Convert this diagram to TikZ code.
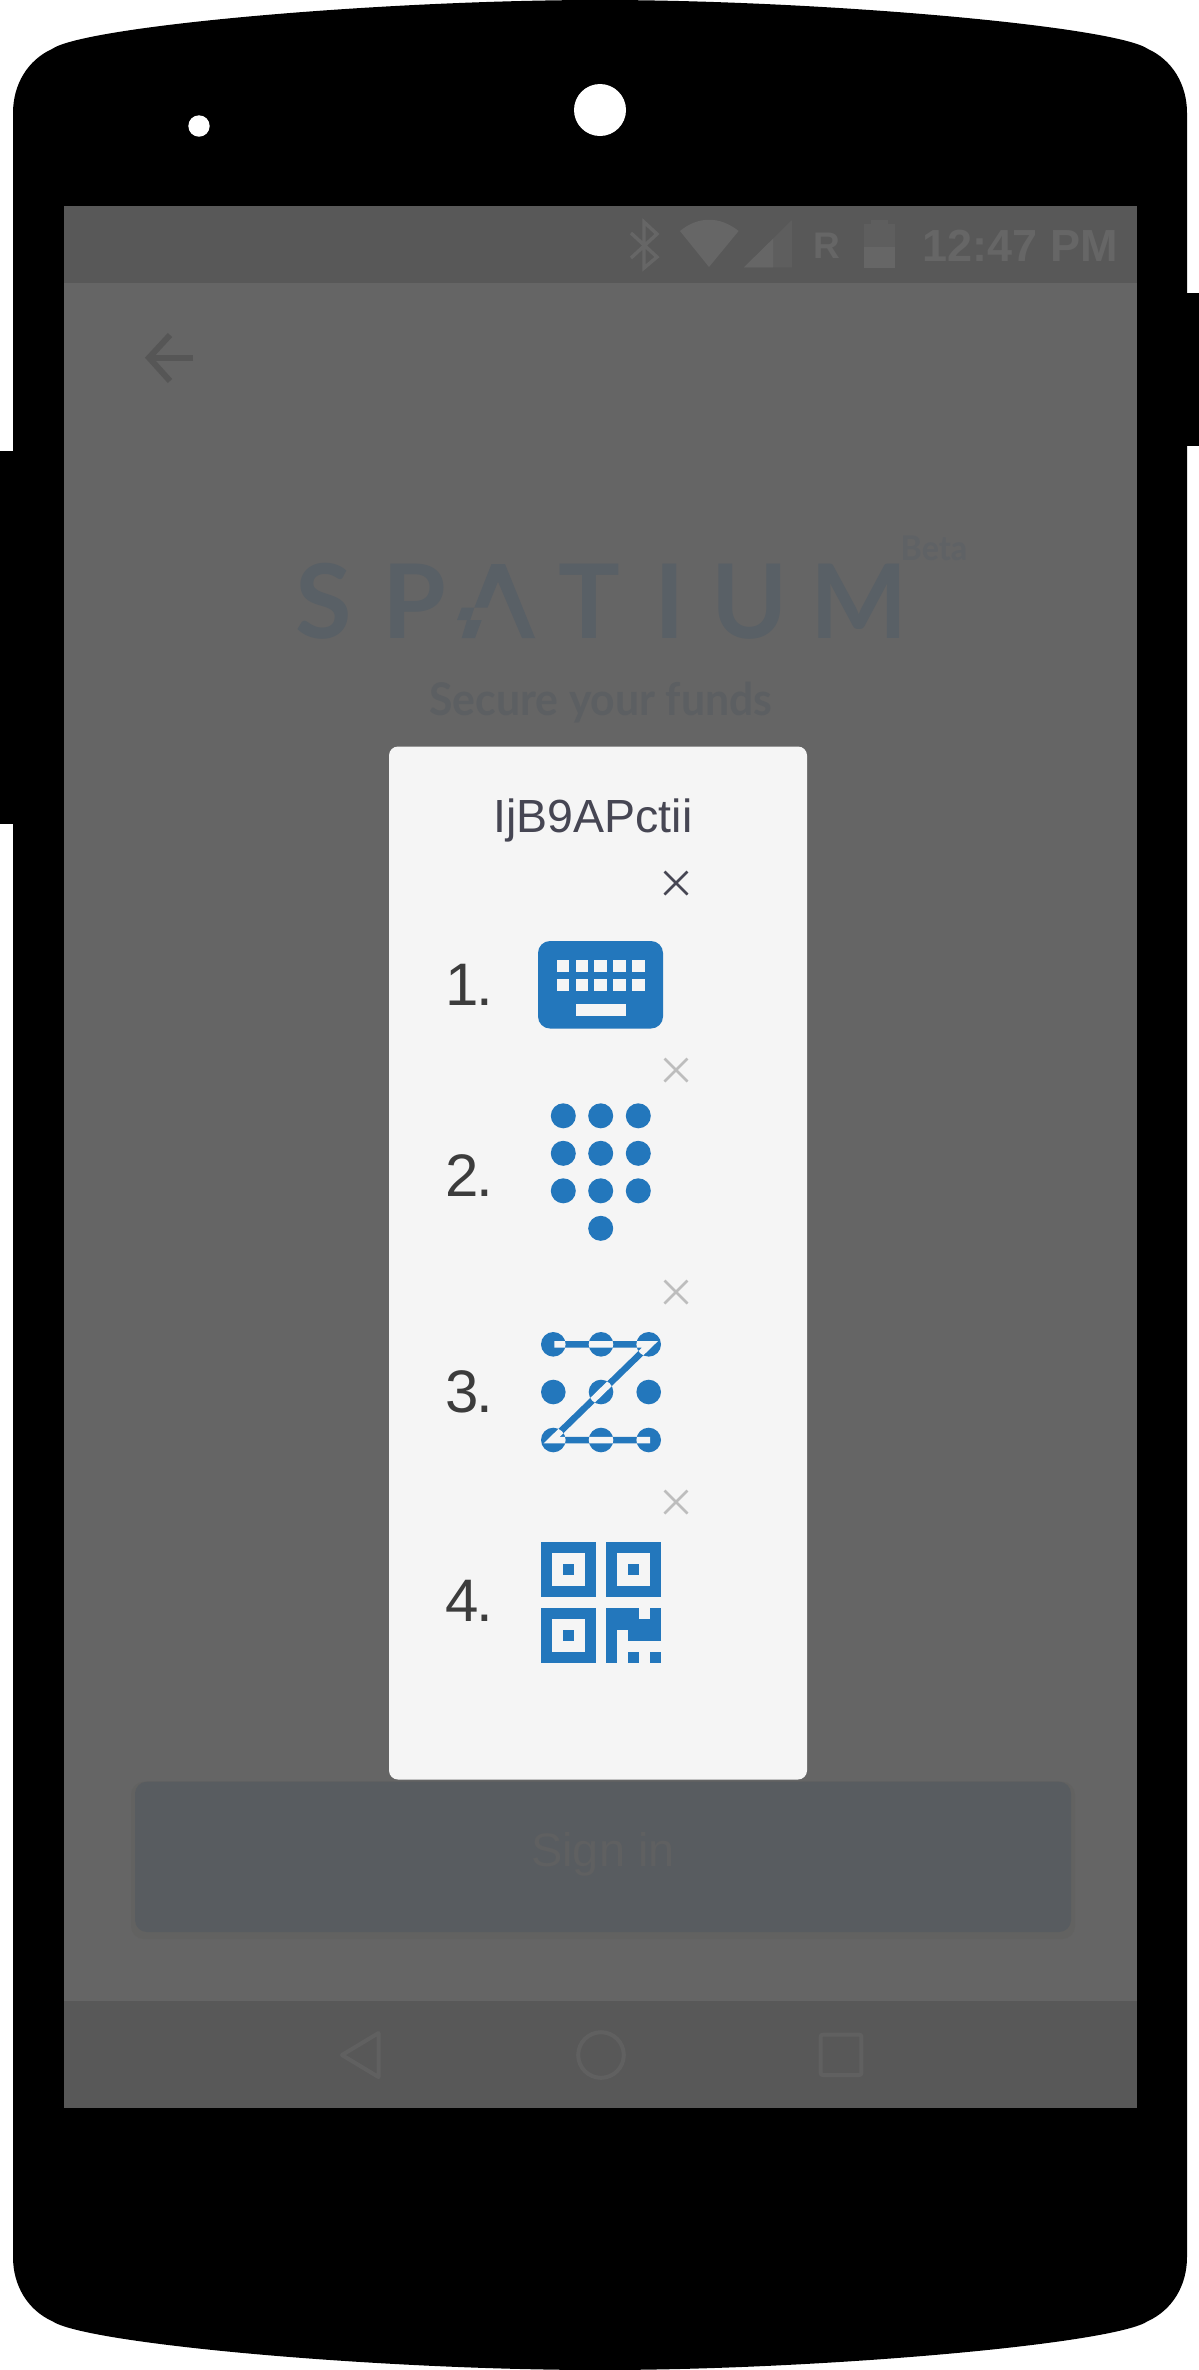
\documentclass[tikz,border=0pt]{standalone}
\usepackage{fontspec}
\setmainfont{Liberation Sans}
\newfontfamily\logofont{Lato}
\newfontfamily\latofont[FakeStretch=0.95]{Lato}
\newcommand{\fsz}[1]{\fontsize{#1}{#1}\selectfont}
\definecolor{screenbg}{HTML}{656565}
\definecolor{barbg}{HTML}{585858}
\definecolor{dialogbg}{HTML}{F5F5F5}
\definecolor{iconblue}{HTML}{2377BC}
\definecolor{numgray}{HTML}{3C3C3C}
\definecolor{titlecol}{HTML}{464653}
\definecolor{xgray}{HTML}{BDBDBD}
\definecolor{logocol}{HTML}{596066}
\definecolor{subcol}{HTML}{5C5F62}
\definecolor{betacol}{HTML}{5F6265}
\definecolor{btncol}{HTML}{585C60}
\definecolor{btnshadow}{HTML}{626261}
\definecolor{btntext}{HTML}{5F6061}
\definecolor{statusfg}{HTML}{666666}
\definecolor{statusdim}{HTML}{5E5E5E}
\definecolor{navfg}{HTML}{606060}
\definecolor{arrowcol}{HTML}{565656}
\tikzset{
  label text/.style={inner sep=0pt,outer sep=0pt,anchor=base},
  closemark/.style={line width=2.6pt,draw=#1},
  navicon/.style={draw=navfg,line width=4pt,line join=round},
}
\begin{document}
\begin{tikzpicture}[x=1pt,y=-1pt]
\useasboundingbox (0,0) rectangle (1199,2370);
\fill[white] (0,0) rectangle (1199,2370);
% side buttons
\fill[black] (1180,293) rectangle (1199,446);
\fill[black] (0,451) rectangle (20,824);
% body
\fill[black] (13,113)
  .. controls (13,84) and (28,60) .. (52,49)
  .. controls (85,26) and (380,0) .. (600,0)
  .. controls (820,0) and (1115,26) .. (1148,49)
  .. controls (1172,60) and (1187,84) .. (1187,113)
  -- (1187,2257)
  .. controls (1187,2286) and (1172,2310) .. (1148,2321)
  .. controls (1115,2344) and (820,2370) .. (600,2370)
  .. controls (380,2370) and (85,2344) .. (52,2321)
  .. controls (28,2310) and (13,2286) .. (13,2257) -- cycle;
% cameras
\fill[white] (600,110) circle (26);
\fill[white] (199,126) circle (10.7);
% screen
\fill[screenbg] (63.5,205.5) rectangle (1137,2107.5);
\fill[barbg] (63.5,205.5) rectangle (1137,283);
\fill[barbg] (63.5,2001) rectangle (1137,2107.5);
% status icons
\draw[statusfg,line width=3.4pt,line join=miter] (631,233) -- (657,257) -- (644,268) -- (644,222) -- (657,234) -- (631,258);
\fill[statusfg] (709,267) -- (680,231) .. controls (698,216) and (720,216) .. (738.6,231) -- cycle;
\fill[statusdim] (744,267.3) -- (792,220) -- (792,267.3) -- cycle;
\fill[statusfg] (744,267.3) -- (773,238.8) -- (773,267.3) -- cycle;
\node[label text,font=\bfseries\fsz{37},text=statusfg] (roam) at (827,258) {R};
\fill[statusdim] (871,220) rectangle (887.5,225);
\fill[statusdim] (864,224) rectangle (895,247);
\fill[statusfg] (864,246.7) rectangle (895,267.7);
\node[label text,anchor=base east,font=\bfseries\fsz{45},text=statusfg] (clock) at (1118,261.7) {12:47 PM};
% back arrow
\draw[arrowcol,line width=6pt] (193,357.7) -- (148,357.7);
\draw[arrowcol,line width=6pt,line join=miter] (170,335) -- (149,357.7) -- (170,381);
% logo
\node[label text,anchor=base west,font=\logofont\bfseries\fsz{103},text=logocol] (logo) at (278,638) {\makebox[91pt][c]{S}\makebox[90pt][c]{P}\makebox[79pt][c]{A}\makebox[102pt][c]{T}\makebox[59pt][c]{I}\makebox[102pt][c]{U}\makebox[116pt][c]{M}};
\fill[screenbg] (452,550) rectangle (546,650);
\fill[logocol] (491.5,564) -- (505,564) -- (535,638) -- (522,638) -- (498,581.7) -- (487.5,607.7) -- (474.3,607.7) -- cycle;
\fill[logocol] (457,620) -- (461.7,607.7) -- (474.3,607.7) -- (470.3,620) -- cycle;
\fill[logocol] (467,620) -- (481.7,620) -- (475,638) -- (461.7,638) -- cycle;
\node[label text,font=\latofont\bfseries\fsz{34},text=betacol] (beta) at (934,560.7) {Beta};
\node[label text,font=\latofont\bfseries\fsz{45},text=subcol] (tagline) at (601,715.7) {Secure your funds};
% sign-in button
\fill[btnshadow,rounded corners=13pt] (131,1781.7) rectangle (1075,1939);
\fill[btncol,rounded corners=12pt] (135,1781.7) rectangle (1071,1932);
\node[label text,font=\fsz{47},text=btntext] (signin) at (603,1866) {Sign in};
% nav icons
\draw[navicon] (342,2055) -- (378.5,2033) -- (378.5,2077) -- cycle;
\draw[navicon] (601,2055) circle (22.8);
\draw[navicon,rounded corners=2pt] (820.7,2034.7) rectangle (861.4,2075);
% dialog
\fill[dialogbg,rounded corners=9pt] (389,746.5) rectangle (807,1779.5);
\node[label text,font=\fsz{46.5},text=titlecol] (title) at (593,832.5) {IjB9APctii};
% close marks
\foreach \yy/\cc in {883/titlecol,1070/xgray,1292/xgray,1502/xgray}
  \draw[closemark=\cc] (664.5,\yy-11.5) -- (687.5,\yy+11.5) (664.5,\yy+11.5) -- (687.5,\yy-11.5);
% numbers
\node[label text,font=\fsz{60},text=numgray] (n1) at (469.5,1005) {1\kern-3pt.};
\node[label text,font=\fsz{60},text=numgray] (n2) at (469.5,1196) {2\kern-3pt.};
\node[label text,font=\fsz{60},text=numgray] (n3) at (469.5,1412) {3\kern-3pt.};
\node[label text,font=\fsz{60},text=numgray] (n4) at (469.5,1621) {4\kern-3pt.};
% keyboard
\fill[iconblue,rounded corners=12pt] (538,941) rectangle (663,1028.5);
\foreach \xx in {556.7,575.5,594.3,613.2,632}
  \foreach \yy in {960,979}
    \fill[dialogbg] (\xx,\yy) rectangle ++(12.5,12.4);
\fill[dialogbg] (576,1003.6) rectangle (626,1016.3);
% keypad
\foreach \xx in {563.3,600.7,638.3}
  \foreach \yy in {1115.8,1153.3,1190.8}
    \fill[iconblue] (\xx,\yy) circle (12.5);
\fill[iconblue] (600.7,1228.3) circle (12.5);
% pattern
\draw[iconblue,line width=6.5pt,line join=miter] (554.3,1344.3) -- (650,1344.3) -- (551.5,1440.2) -- (650,1440.2);
\foreach \xx in {553.3,601,648.7}
  \foreach \yy in {1344.3,1392,1440}
    \fill[iconblue] (\xx,\yy) circle (12.3);
\begin{scope}
  \clip (553.3,1344.3) circle (12.3) (601,1344.3) circle (12.3) (648.7,1344.3) circle (12.3)
        (601,1392) circle (12.3)
        (553.3,1440) circle (12.3) (601,1440) circle (12.3) (648.7,1440) circle (12.3);
  \draw[dialogbg,line width=6.5pt,line join=miter] (554.3,1344.3) -- (650,1344.3) -- (551.5,1440.2) -- (650,1440.2);
\end{scope}
% QR
\foreach \qx/\qy in {541/1542.3,606.3/1542.3,541/1608}{
  \fill[iconblue] (\qx,\qy) rectangle ++(54.7,54.7);
  \fill[dialogbg] (\qx+10.93,\qy+10.93) rectangle ++(32.8,32.8);
  \fill[iconblue] (\qx+21.87,\qy+21.87) rectangle ++(10.93,10.93);
}
\foreach \cc/\rr in {0/0,1/0,2/0,4/0,0/1,1/1,2/1,3/1,4/1,0/2,2/2,3/2,4/2,0/3,0/4,2/4,4/4}
  \fill[iconblue] (606.3+\cc*10.93,1608+\rr*10.93) rectangle ++(11.05,11.05);
\end{tikzpicture}
\end{document}
